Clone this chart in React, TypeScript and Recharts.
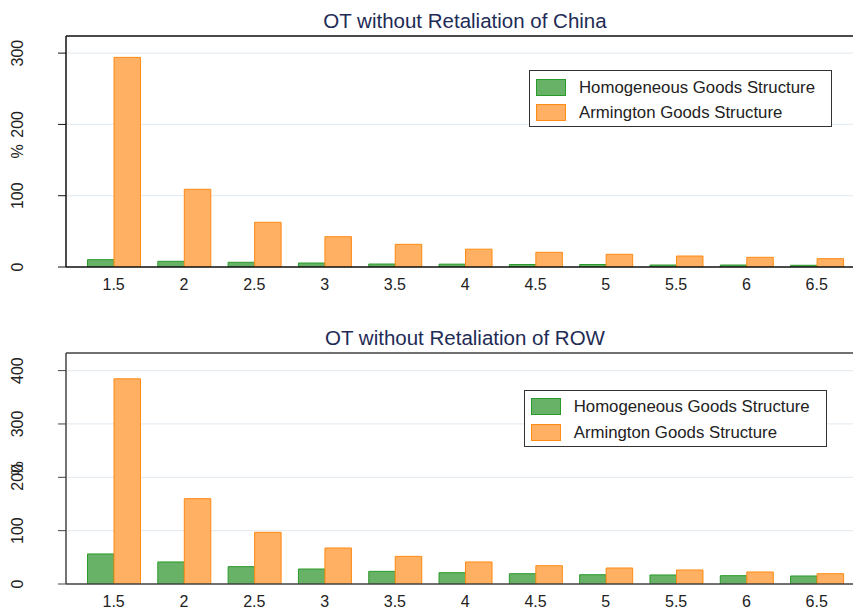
import React from 'react';
import { BarChart, Bar, XAxis, YAxis, CartesianGrid, Legend } from 'recharts';

const elasticities = ['1.5', '2', '2.5', '3', '3.5', '4', '4.5', '5', '5.5', '6', '6.5'];

// OT without retaliation of China (%)
const chinaHomogeneous = [10.3, 8, 6.6, 5.6, 4.2, 4, 3.5, 3.5, 2.8, 2.8, 2.4];
const chinaArmington = [294, 109, 62.7, 42.5, 31.8, 25, 20.6, 17.8, 15.4, 13.6, 11.7];

// OT without retaliation of ROW (%)
const rowHomogeneous = [56.3, 41.3, 32.5, 28.1, 23.7, 21.2, 19.3, 17.4, 16.9, 15.6, 15];
const rowArmington = [384.6, 160, 96.8, 67.5, 51.8, 41.3, 34.3, 30, 26.3, 22.5, 19.3];

const chinaTicks = [0, 100, 200, 300];
const rowTicks = [0, 100, 200, 300, 400];

const SERIES = [
  { key: 'homogeneous', name: 'Homogeneous Goods Structure', fill: '#67b267', stroke: '#2a9a2a' },
  { key: 'armington', name: 'Armington Goods Structure', fill: '#ffb062', stroke: '#ff8a14' },
];

const FONT = '"Liberation Sans", Arial, sans-serif';

const YTick = (props: any) => {
  const { y, payload } = props;
  return (
    <text
      transform={`translate(23.3, ${y}) rotate(-90)`}
      textAnchor="middle"
      fontSize={16}
      fontFamily={FONT}
      fill="#222"
    >
      {payload.value}
    </text>
  );
};

const LegendBox = () => (
  <div
    style={{
      width: 301,
      height: 55,
      border: '1px solid #333',
      background: '#fff',
      fontFamily: FONT,
      fontSize: 16.8,
      color: '#222',
      boxSizing: 'content-box',
      position: 'relative',
    }}
  >
    {SERIES.map((s, i) => (
      <div
        key={s.key}
        style={{ position: 'absolute', left: 6, top: 7.5 + i * 25.7, height: 17, display: 'flex', alignItems: 'center' }}
      >
        <div
          style={{
            width: 28,
            height: 15,
            background: s.fill,
            border: `1px solid ${s.stroke}`,
            marginRight: 13,
          }}
        />
        <span style={{ whiteSpace: 'nowrap', lineHeight: '17px' }}>{s.name}</span>
      </div>
    ))}
  </div>
);

interface PanelProps {
  title: string;
  homogeneous: number[];
  armington: number[];
  ticks: number[];
  yMax: number;
  top: number;
  legendLeft: number;
  legendTop: number;
  frame: string;
}

function Panel({ title, homogeneous, armington, ticks, yMax, top, legendLeft, legendTop, frame }: PanelProps) {
  const data = elasticities.map((e, i) => ({
    sigma: e,
    homogeneous: homogeneous[i],
    armington: armington[i],
  }));

  return (
    <div style={{ position: 'absolute', left: 0, top, width: 870, height: 305 }}>
      <div
        style={{
          position: 'absolute',
          left: 66,
          width: 798,
          top: 9,
          textAlign: 'center',
          fontFamily: FONT,
          fontSize: 20.5,
          color: '#1e2b55',
          lineHeight: '24px',
        }}
      >
        {title}
      </div>
      <BarChart
        width={870}
        height={305}
        data={data}
        margin={{ top: 36, right: 5.6, bottom: 8, left: 0 }}
        barGap={0}
        barSize={26.5}
      >
        <CartesianGrid vertical={false} stroke="#e6edf2" strokeWidth={1.2} />
        <XAxis
          dataKey="sigma"
          axisLine={{ stroke: frame, strokeWidth: 1.5 }}
          tickLine={false}
          tickSize={0}
          tickMargin={11.5}
          height={30}
          padding={{ left: 12.5, right: 12.5 }}
          tick={{ fontSize: 16, fontFamily: FONT, fill: '#222' }}
          interval={0}
        />
        <YAxis
          width={66}
          domain={[0, yMax]}
          ticks={ticks}
          allowDataOverflow
          axisLine={{ stroke: frame, strokeWidth: 1.5 }}
          tickLine={{ stroke: frame, strokeWidth: 1 }}
          tickSize={8}
          tick={<YTick />}
          label={(p: any) => {
            const vb = p.viewBox;
            return (
              <text
                transform={`translate(23.3, ${vb.y + vb.height / 2}) rotate(-90)`}
                textAnchor="middle"
                fontSize={16}
                fontFamily={FONT}
                fill="#222"
              >
                %
              </text>
            );
          }}
        />
        <Legend
          layout="horizontal"
          verticalAlign="middle"
          align="center"
          content={<LegendBox />}
          wrapperStyle={{ left: legendLeft, top: legendTop, width: 303, height: 57 }}
        />
        {SERIES.map((s) => (
          <Bar
            key={s.key}
            dataKey={s.key}
            name={s.name}
            fill={s.fill}
            stroke={s.stroke}
            strokeWidth={1}
            isAnimationActive={false}
          />
        ))}
      </BarChart>
      <svg width={870} height={40} style={{ position: 'absolute', left: 0, top: 30 }}>
        <line x1={66} x2={870} y1={6} y2={6} stroke={frame} strokeWidth={1.5} />
      </svg>
    </div>
  );
}

export default function App() {
  return (
    <div
      style={{
        position: 'absolute',
        left: 0,
        top: 0,
        width: 853,
        height: 607,
        overflow: 'hidden',
        background: '#fff',
      }}
    >
      <Panel
        title="OT without Retaliation of China"
        homogeneous={chinaHomogeneous}
        armington={chinaArmington}
        ticks={chinaTicks}
        yMax={324}
        top={0}
        legendLeft={529}
        legendTop={70}
        frame="#111"
      />
      <Panel
        title="OT without Retaliation of ROW"
        homogeneous={rowHomogeneous}
        armington={rowArmington}
        ticks={rowTicks}
        yMax={433}
        top={317.3}
        legendLeft={523.7}
        legendTop={72.7}
        frame="#444"
      />
    </div>
  );
}
